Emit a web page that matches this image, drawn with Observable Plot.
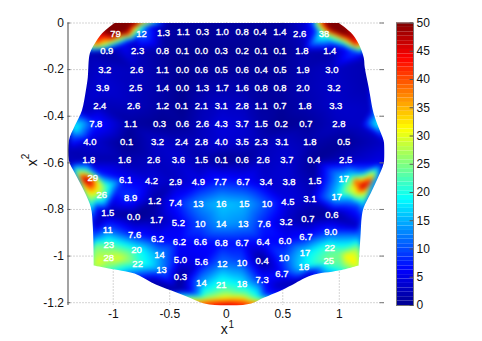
<!DOCTYPE html>
<html><head><meta charset="utf-8">
<script src="https://cdn.jsdelivr.net/npm/d3@7"></script>
<script src="https://cdn.jsdelivr.net/npm/@observablehq/plot@0.6"></script>
<style>
html,body{margin:0;padding:0;background:#fff;overflow:hidden}
#wrap{position:relative;width:482px;height:341px}
#wrap>*{position:absolute;top:0}
</style></head><body><div id="wrap"></div>
<script>
const labelText = [
"79","12","1.3","1.1","0.3","1.0","0.8","0.4","1.4","2.6","38",
"0.9","2.3","0.8","0.1","0.0","0.3","0.2","0.1","0.1","1.8","1.4",
"3.2","2.6","1.1","0.0","0.6","0.5","0.6","0.4","0.5","1.9","3.0",
"3.9","2.5","1.4","0.0","1.3","1.7","1.6","0.8","0.8","2.0","3.2",
"2.4","2.6","1.2","0.1","2.1","3.1","2.8","1.1","0.7","1.8","3.3",
"7.8","1.1","0.3","0.6","2.6","4.3","3.7","1.5","0.2","0.7","2.8",
"4.0","0.1","3.2","2.4","2.8","4.0","3.5","2.3","3.1","1.8","0.5",
"1.8","1.6","2.6","3.6","1.5","0.1","0.6","2.6","3.7","0.4","2.5",
"29","6.1","4.2","2.9","4.9","7.7","6.7","3.4","3.8","1.5","17",
"26","8.9","1.2","7.4","13","16","15","10","4.5","3.1","17",
"1.5","0.0","1.7","5.2","10","14","13","7.6","3.2","0.7","0.6",
"11","7.6","6.2","6.2","6.6","6.8","6.7","6.4","6.0","6.7","9.0",
"23","20","14","5.0","5.6","12","10","0.4","10","17","22",
"28","22","13","0.3","14","21","18","7.3","6.7","18","25"];
const labelX = [
-.98,-.75,-.555,-.38,-.21,-.035,.14,.30,.475,.65,.865,
-1.057,-.784,-.564,-.388,-.22,-.044,.14,.308,.476,.67,.916,
-1.075,-.793,-.564,-.388,-.22,-.044,.14,.308,.476,.678,.934,
-1.093,-.802,-.564,-.388,-.211,-.035,.14,.308,.476,.678,.952,
-1.119,-.819,-.564,-.396,-.22,-.044,.14,.308,.476,.696,.969,
-1.154,-.846,-.59,-.388,-.211,-.044,.14,.308,.485,.705,.996,
-1.207,-.881,-.608,-.396,-.22,-.044,.14,.308,.493,.74,1.04,
-1.216,-.899,-.643,-.423,-.22,-.044,.14,.326,.537,.775,1.057,
-1.181,-.89,-.661,-.449,-.247,-.053,.15,.352,.555,.784,1.04,
-1.101,-.846,-.634,-.449,-.247,-.044,.159,.361,.546,.74,.978,
-1.048,-.819,-.617,-.423,-.229,-.044,.15,.335,.529,.722,.934,
-1.048,-.811,-.608,-.414,-.229,-.044,.14,.326,.52,.705,.925,
-1.04,-.793,-.59,-.405,-.22,-.035,.14,.317,.511,.696,.916,
-1.04,-.784,-.573,-.405,-.22,-.044,.14,.317,.493,.687,.907];
const labelY = [
-.045,-.045,-.043,-.04,-.04,-.04,-.04,-.04,-.04,-.045,-.045,
-.122,-.122,-.122,-.122,-.122,-.122,-.122,-.122,-.122,-.122,-.122,
-.2,-.2,-.2,-.2,-.2,-.2,-.2,-.2,-.2,-.2,-.2,
-.277,-.277,-.277,-.277,-.277,-.277,-.277,-.277,-.277,-.277,-.277,
-.354,-.354,-.354,-.354,-.354,-.354,-.354,-.354,-.354,-.354,-.354,
-.431,-.431,-.431,-.431,-.431,-.431,-.431,-.431,-.431,-.431,-.431,
-.509,-.509,-.509,-.509,-.509,-.509,-.509,-.509,-.509,-.509,-.509,
-.586,-.586,-.586,-.586,-.586,-.586,-.586,-.586,-.586,-.586,-.586,
-.663,-.672,-.676,-.68,-.68,-.68,-.68,-.68,-.68,-.676,-.667,
-.736,-.749,-.762,-.77,-.775,-.775,-.775,-.775,-.766,-.753,-.745,
-.813,-.83,-.843,-.856,-.861,-.861,-.861,-.861,-.852,-.839,-.822,
-.886,-.908,-.925,-.938,-.938,-.942,-.942,-.938,-.933,-.916,-.895,
-.951,-.972,-.994,-1.015,-1.024,-1.033,-1.028,-1.019,-1.006,-.985,-.964,
-1.006,-1.032,-1.058,-1.088,-1.114,-1.122,-1.118,-1.101,-1.075,-1.045,-1.019];

// Extra readings of the colour field, where colours are not at a printed label
const fieldX = [
-.99,-.79,-1.10,-.87,-.81,-.75,-.66,-1.16,-1.07,-.99,-.91,-.88,-1.23,-.81,
.77,.82,.88,.995,.925,1.01,1.10,1.155,1.06,.97,.865,.79,.925,1.06,1.145,1.21,.70,
-1.35,-1.28,-1.37,-1.23,-1.30,-1.38,
1.295,1.35,1.38,1.28,1.19,1.40,1.25,1.23,
-1.18,-1.295,-1.26,-1.22,-1.21,-1.145,-1.06,-1.35,-1.23,-1.145,-.97,-1.19,-1.145,-1.16,-1.38,
1.235,1.295,1.17,1.12,1.06,1.19,1.28,1.35,1.10,1.21,1.38,1.145,1.235,1.10,1.19,
-1.145,-1.04,-.84,-.66,-1.17,-1.17,-1.17,-.78,-.95,-.68,
0,-.18,.18,0,-.18,.18,-.26,.26,0,-.35,.35,.13,-.13,-.44,.485,.57,
1.145,1.17,1.17,1.17,1.01,.88,1.06,.75,.62,1.0,
-1.4,1.4,-1.4,1.4,-.5,0,.5,
-1.0,-.9,-.85,-1.05,.95,1.05,
1.15,1.28,1.2,-1.24,-1.2,-1.17,-1.13];
const fieldY = [
0,0,-.045,-.045,-.025,-.01,-.01,-.09,-.09,-.09,-.09,-.07,-.125,-.075,
0,0,0,0,-.025,-.045,-.06,-.09,-.075,-.06,-.045,-.03,-.09,-.11,-.12,-.14,0,
-.45,-.43,-.48,-.395,-.375,-.55,
-.41,-.44,-.47,-.375,-.44,-.51,-.27,-.16,
-.665,-.655,-.675,-.665,-.695,-.675,-.70,-.62,-.63,-.64,-.72,-.74,-.76,-.79,-.60,
-.69,-.665,-.695,-.705,-.72,-.665,-.64,-.63,-.655,-.64,-.60,-.74,-.725,-.755,-.785,
-1.03,-1.05,-1.065,-1.105,-.955,-.91,-.87,-1.07,-1.01,-1.04,
-1.21,-1.20,-1.205,-1.18,-1.175,-1.175,-1.165,-1.18,-1.155,-1.155,-1.165,-1.155,-1.145,-1.145,-1.13,-1.105,
-1.03,-.965,-.91,-.87,-1.05,-1.07,-1.0,-1.075,-1.115,-.985,
0,0,-1.212,-1.212,0,0,0,
-.02,-.02,-.01,-.03,-.03,-.04,
-.68,-.68,-.7,-.67,-.69,-.70,-.72];
const fieldV = [
55,52,48,45,32,22,6,40,30,18,6,15,2,4,
12,35,52,52,52,52,50,45,33,28,24,8,8,6,10,2,4,
20,16,12,4,3,2,
14,20,12,3,3,3,2,2,
34,40,46,42,42,32,22,15,18,7,8,30,20,8,3,
46,38,38,30,26,28,25,14,18,12,5,28,32,14,10,
30,24,14,2,24,10,3,12,30,18,
46,40,42,32,24,26,12,22,25,4,8,22,20,1,2,4,
32,26,12,3,22,14,32,3,1,24,
2,2,2,2,1,1,1,
55,55,50,55,55,55,
45,46,50,50,48,38,30];

// Outline of the drawn surface (corners listed twice stay sharp)
const edgeX = [-.987,-.987,.995,.995,1.10,1.17,1.216,1.225,1.26,1.304,1.348,1.392,1.40,1.392,1.339,1.277,1.216,1.198,1.189,1.172,1.172,
.996,.749,.573,.502,.335,.22,0,-.194,-.308,-.485,-.661,-.811,-1.04,-1.172,-1.172,
-1.18,-1.198,-1.251,-1.339,-1.392,-1.392,-1.339,-1.277,-1.242,-1.225,-1.207,-1.163,-1.10];
const edgeY = [0,0,0,0,-.04,-.088,-.148,-.19,-.277,-.388,-.448,-.504,-.547,-.603,-.667,-.732,-.792,-.834,-.903,-1.04,-1.04,
-1.062,-1.083,-1.126,-1.143,-1.178,-1.203,-1.212,-1.203,-1.182,-1.148,-1.113,-1.075,-1.053,-1.04,-1.04,
-.877,-.791,-.727,-.645,-.59,-.504,-.44,-.375,-.29,-.234,-.131,-.088,-.045];

const xTicks = [-1,-0.5,0,0.5,1];
const yTicks = [0,-0.2,-0.4,-0.6,-0.8,-1,-1.2];
const barTicks = [0,5,10,15,20,25,30,35,40,45,50];
const jetDomain = [0,6.25,18.75,31.25,43.75,50];
const jetRange = ["#00008f","#0000ff","#00ffff","#ffff00","#ff0000","#800000"];
const colorScale = {type:"linear",domain:jetDomain,range:jetRange,clamp:true};
const font = "'Liberation Sans',Arial,sans-serif";
const skipInField = new Set(["38","29"]);

const points = labelText.map((t,i)=>({t,x:labelX[i],y:labelY[i],v:Math.min(+t,55)}));
const field = points.filter(d=>!skipInField.has(d.t))
  .concat(fieldX.map((x,i)=>({x,y:fieldY[i],v:fieldV[i]})));

function clipToEdge(index,scales,values,dimensions,context,next){
  const g = next(index,scales,values,dimensions,context);
  const ns = "http://www.w3.org/2000/svg";
  const clip = document.createElementNS(ns,"clipPath"); clip.setAttribute("id","surface-clip");
  const path = document.createElementNS(ns,"path");
  path.setAttribute("d", d3.line().curve(d3.curveCatmullRomClosed.alpha(0.5))(edgeX.map((x,i)=>[scales.x(x),scales.y(edgeY[i])])));
  clip.append(path); g.append(clip); g.setAttribute("clip-path","url(#surface-clip)");
  return g;
}

const chart = Plot.plot({
  width:482,height:341,marginLeft:67.5,marginRight:98,marginTop:22.5,marginBottom:36,
  style:{fontFamily:font,background:"transparent"},
  x:{domain:[-1.4,1.4]},
  y:{domain:[-1.212,0]},
  color:colorScale,
  marks:[
    Plot.ruleY(yTicks,{y:d=>d,stroke:"#aaa",strokeDasharray:"1,2"}),
    Plot.ruleX(xTicks,{x:d=>d,stroke:"#aaa",strokeDasharray:"1,2"}),
    Plot.raster(field,{x:"x",y:"y",fill:"v",interpolate:"barycentric",blur:2,pixelSize:1,render:clipToEdge}),
    Plot.ruleX([-1.4],{stroke:"#666",strokeWidth:1.2}),
    Plot.ruleY(yTicks,{y:d=>d,x1:-1.4,x2:-1.375,stroke:"#666"}),
    Plot.ruleY(yTicks,{y:d=>d,x1:1.36,x2:1.4,stroke:"#777"}),
    Plot.axisX(xTicks,{tickSize:0,tickPadding:4,fontSize:12,fill:"#111",tickFormat:d=>String(d),label:null}),
    Plot.axisY(yTicks,{tickSize:0,tickPadding:4,fontSize:12,fill:"#111",tickFormat:d=>String(d),label:null}),
    Plot.text(points,{x:"x",y:"y",text:"t",fill:"white",stroke:"white",strokeWidth:0.35,fontSize:9.5}),
    Plot.text(["x"],{frameAnchor:"bottom",dy:28,dx:-2,fontSize:14,fill:"#111"}),
    Plot.text(["1"],{frameAnchor:"bottom",dy:22,dx:5,fontSize:10,fill:"#111"}),
    Plot.text(["x"],{frameAnchor:"left",dx:-35,dy:2,rotate:-90,fontSize:14,fill:"#111"}),
    Plot.text(["2"],{frameAnchor:"left",dx:-42,dy:-5,rotate:-90,fontSize:10,fill:"#111"})
  ]
});
chart.style.left="0px";
chart.setAttribute("overflow","visible");
document.getElementById("wrap").append(chart);

const barLevels = d3.range(64).map(i=>({lo:i*50/64,hi:(i+1)*50/64}));
const bar = Plot.plot({
  width:86,height:341,marginLeft:0,marginRight:69,marginTop:22.5,marginBottom:36,
  style:{fontFamily:font,background:"transparent"},
  x:{axis:null,domain:[0,1]},
  y:{domain:[0,50]},
  color:colorScale,
  marks:[
    Plot.rect(barLevels,{x1:0,x2:1,y1:"lo",y2:"hi",fill:d=>(d.lo+d.hi)/2}),
    Plot.frame({stroke:"#777"}),
    Plot.ruleY(barTicks,{y:d=>d,x1:0.8,x2:1,stroke:"#555"}),
    Plot.axisY(barTicks,{anchor:"right",tickSize:0,tickPadding:3,fontSize:12,fill:"#111",label:null})
  ]
});
bar.style.left="396px";
document.getElementById("wrap").append(bar);
</script></body></html>
